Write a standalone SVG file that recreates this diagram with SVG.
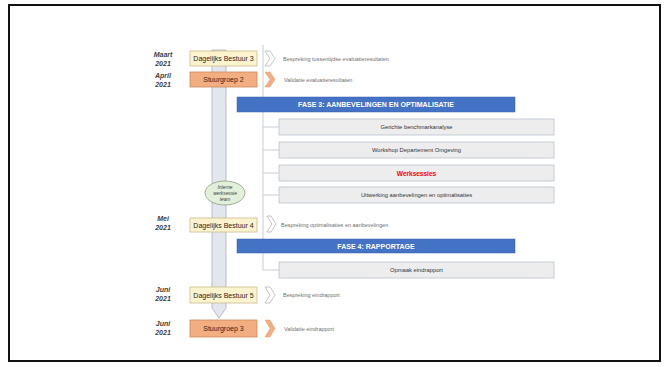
<svg xmlns="http://www.w3.org/2000/svg" width="666" height="367" viewBox="0 0 666 367">
  <defs>
    <style>
      .frame { fill: #ffffff; stroke: #111111; stroke-width: 2; }
      .date { font-family: "Liberation Sans", Arial, sans-serif; font-size: 7px; font-style: italic; font-weight: bold; fill: #404040; text-anchor: middle; }
      .db { fill: #fdf3cf; stroke: #c9bb8c; stroke-width: 0.8; }
      .sg { fill: #f2ad80; stroke: #c98a5e; stroke-width: 0.8; }
      .boxlabel { font-family: "Liberation Sans", Arial, sans-serif; font-size: 7px; fill: #262626; text-anchor: middle; }
      .chev-db { fill: #ffffff; stroke: #b5b5b5; stroke-width: 0.8; }
      .chev-sg { fill: #f2ad80; stroke: #e0a078; stroke-width: 0.5; }
      .note { font-family: "Liberation Sans", Arial, sans-serif; font-size: 5.5px; fill: #707070; }
      .phase { fill: #4472c4; stroke: #3b62aa; stroke-width: 0.5; }
      .phaselabel { font-family: "Liberation Sans", Arial, sans-serif; font-size: 7px; font-weight: bold; fill: #ffffff; text-anchor: middle; }
      .task { fill: #ededed; stroke: #b9c0cb; stroke-width: 0.8; }
      .tasklabel { font-family: "Liberation Sans", Arial, sans-serif; font-size: 5.8px; fill: #333333; text-anchor: middle; }
      .tree { fill: none; stroke: #c6ceda; stroke-width: 1; }
      .bar { fill: #e3e7ed; stroke: #a9b0ba; stroke-width: 0.8; }
      .team { fill: #e2efd9; stroke: #8d9c80; stroke-width: 0.8; }
      .teamlabel { font-family: "Liberation Sans", Arial, sans-serif; font-size: 4.8px; font-style: italic; fill: #404040; text-anchor: middle; }
    </style>
  </defs>

  <rect class="frame" x="9" y="5" width="651" height="356"/>

  <!-- timeline bar with arrow tip -->
  <g id="timeline">
    <path class="bar" d="M212,50 L226,50 L226,308 L219,318 L212,308 Z"/>
  </g>

  <!-- connectors -->
  <g id="connectors">
    <line class="tree" x1="263" y1="45" x2="263" y2="270"/>
    <path class="tree" d="M263,127 H279 M263,150 H279 M263,173 H279 M263,195 H279 M263,270 H279"/>
  </g>

  <g id="maart">
    <text class="date" x="163" y="57">Maart</text>
    <text class="date" x="163" y="66">2021</text>
    <rect class="db" x="190" y="51" width="67" height="15"/>
    <text class="boxlabel" x="223.5" y="61">Dagelijks Bestuur 3</text>
    <path class="chev-db" d="M265,51 L270,51 L275,58.5 L270,66 L265,66 L270,58.5 Z"/>
    <text class="note" x="283" y="60.5">Bespreking tussentijdse evaluatieresultaten</text>
  </g>

  <g id="april">
    <text class="date" x="163" y="78">April</text>
    <text class="date" x="163" y="87">2021</text>
    <rect class="sg" x="190" y="72" width="67" height="15"/>
    <text class="boxlabel" x="223.5" y="82">Stuurgroep 2</text>
    <path class="chev-sg" d="M265,72 L270,72 L275,79.5 L270,87 L265,87 L270,79.5 Z"/>
    <text class="note" x="284" y="81.5">Validatie evaluatieresultaten</text>
  </g>

  <g id="fase3">
    <rect class="phase" x="237" y="97" width="278" height="15"/>
    <text class="phaselabel" x="376" y="107">FASE 3: AANBEVELINGEN EN OPTIMALISATIE</text>
  </g>

  <g id="benchmark">
    <rect class="task" x="279" y="119" width="275" height="16"/>
    <text class="tasklabel" x="416.5" y="129">Gerichte benchmarkanalyse</text>
  </g>
  <g id="workshop">
    <rect class="task" x="279" y="142" width="275" height="16"/>
    <text class="tasklabel" x="416.5" y="152">Workshop Departement Omgeving</text>
  </g>
  <g id="werksessies">
    <rect class="task" x="279" y="165" width="275" height="16"/>
    <text class="tasklabel" x="416.5" y="175.5" style="fill:#ff0000;font-weight:bold;font-size:6.5px">Werksessies</text>
  </g>
  <g id="uitwerking">
    <rect class="task" x="279" y="187" width="275" height="16"/>
    <text class="tasklabel" x="416.5" y="197">Uitwerking aanbevelingen en optimalisaties</text>
  </g>

  <g id="team">
    <ellipse class="team" cx="225" cy="193" rx="20" ry="12"/>
    <text class="teamlabel" x="225" y="188.5">Interne</text>
    <text class="teamlabel" x="225" y="194.5">werksessie</text>
    <text class="teamlabel" x="225" y="200.5">team</text>
  </g>

  <g id="mei">
    <text class="date" x="163" y="221">Mei</text>
    <text class="date" x="163" y="230">2021</text>
    <rect class="db" x="190" y="218" width="67" height="14"/>
    <text class="boxlabel" x="223.5" y="227.5">Dagelijks Bestuur 4</text>
    <path class="chev-db" d="M267,216 L271,216 L276,224 L271,232 L267,232 L272,224 Z"/>
    <text class="note" x="281" y="226.5">Bespreking optimalisaties en aanbevelingen</text>
  </g>

  <g id="fase4">
    <rect class="phase" x="237" y="239" width="278" height="14"/>
    <text class="phaselabel" x="376" y="248.5">FASE 4: RAPPORTAGE</text>
  </g>

  <g id="eindrapport">
    <rect class="task" x="279" y="262" width="275" height="16"/>
    <text class="tasklabel" x="416.5" y="272">Opmaak eindrapport</text>
  </g>

  <g id="juni1">
    <text class="date" x="163" y="292">Juni</text>
    <text class="date" x="163" y="301">2021</text>
    <rect class="db" x="190" y="287" width="67" height="16"/>
    <text class="boxlabel" x="223.5" y="297.5">Dagelijks Bestuur 5</text>
    <path class="chev-db" d="M265,287 L270,287 L275,295 L270,303 L265,303 L270,295 Z"/>
    <text class="note" x="283" y="297">Bespreking eindrapport</text>
  </g>

  <g id="juni2">
    <text class="date" x="163" y="326">Juni</text>
    <text class="date" x="163" y="335">2021</text>
    <rect class="sg" x="190" y="320" width="67" height="17"/>
    <text class="boxlabel" x="223.5" y="331">Stuurgroep 3</text>
    <path class="chev-sg" d="M265,320 L270,320 L275,328.5 L270,337 L265,337 L270,328.5 Z"/>
    <text class="note" x="284" y="331">Validatie eindrapport</text>
  </g>
</svg>
